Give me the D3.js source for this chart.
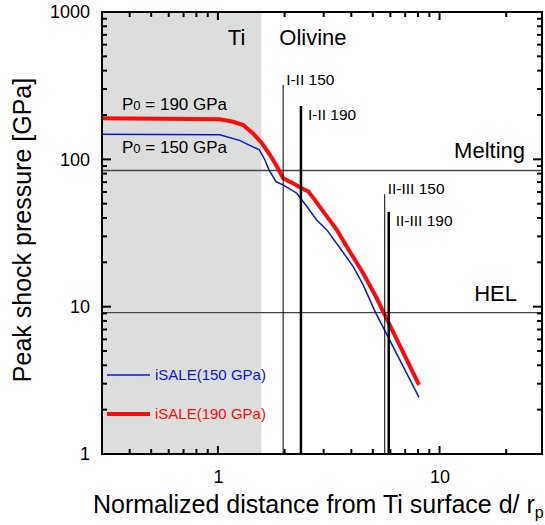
<!DOCTYPE html>
<html>
<head>
<meta charset="utf-8">
<script src="https://cdn.jsdelivr.net/npm/d3@7"></script>
<style>
body { margin: 0; background: #fff; }
text { font-family: "Liberation Sans", Arial, Helvetica, sans-serif; }
</style>
</head>
<body>
<div id="container"></div>
<script>
// iSALE peak pressure, 190 GPa run
var distRed = [0.3, 1.02, 1.17, 1.30, 1.44, 1.58, 1.72, 1.85, 1.97, 2.15, 2.39, 2.56, 2.70, 2.99, 3.44, 3.94, 4.53, 5.21, 5.57, 8.08];
var pressRed = [190, 187, 180, 171, 150, 128.6, 107, 89, 74.4, 69.5, 63.7, 60.4, 54.5, 44.2, 33.2, 23.6, 16.8, 11.4, 9.25, 2.94];
// iSALE peak pressure, 150 GPa run
var distBlue = [0.3, 1.02, 1.26, 1.40, 1.54, 1.63, 1.70, 1.83, 1.97, 2.27, 2.52, 2.79, 3.10, 3.56, 4.08, 4.53, 5.12, 8.08];
var pressBlue = [148, 147, 134, 124, 116, 99, 84.7, 70.6, 67, 58.9, 47.8, 38.8, 33.2, 24.9, 18.7, 14.0, 9.25, 2.42];

// phase transition distances
var transNames = ['I-II 150', 'I-II 190', 'II-III 150', 'II-III 190'];
var transDist = [1.97, 2.37, 5.66, 5.90];
var transTop = [320, 230, 58, 44];
var transCase = [150, 190, 150, 190];

// horizontal pressure levels
var levelNames = ['Melting', 'HEL'];
var levelValues = [84, 9.1];

var tiEdge = 1.57;
var p0Names = ['190', '150'];

var xTickLabels = [1, 10];
var xMinorTicks = [0.4, 0.5, 0.6, 0.7, 0.8, 0.9, 2, 3, 4, 5, 6, 7, 8, 9, 20];
var yTickLabels = [1, 10, 100, 1000];
var yMinorTicks = [2, 3, 4, 5, 6, 7, 8, 9, 20, 30, 40, 50, 60, 70, 80, 90, 200, 300, 400, 500, 600, 700, 800, 900];

var width = 545, height = 525;
var plotLeft = 102, plotRight = 542, plotTop = 12, plotBottom = 454;

var svg = d3.select('#container').append('svg')
    .attr('width', width)
    .attr('height', height);

var x = d3.scaleLog().domain([0.3, 29]).range([plotLeft, plotRight]);
var y = d3.scaleLog().domain([1, 1000]).range([plotBottom, plotTop]);

// Ti region
svg.append('rect')
    .attr('x', plotLeft)
    .attr('y', plotTop)
    .attr('width', x(tiEdge) - plotLeft)
    .attr('height', plotBottom - plotTop)
    .attr('fill', '#dcdddd');

// Melting / HEL lines
svg.selectAll('.level').data(levelValues).enter().append('line')
    .attr('class', 'level')
    .attr('x1', plotLeft).attr('x2', plotRight)
    .attr('y1', function (d) { return y(d); })
    .attr('y2', function (d) { return y(d); })
    .attr('stroke', '#444')
    .attr('stroke-width', 1.3);

var curve = d3.line()
    .x(function (d) { return x(d[0]); })
    .y(function (d) { return y(d[1]); });

svg.append('path')
    .datum(d3.zip(distBlue, pressBlue))
    .attr('d', curve)
    .attr('fill', 'none')
    .attr('stroke', '#0a14e6')
    .attr('stroke-width', 1.5);

svg.append('path')
    .datum(d3.zip(distRed, pressRed))
    .attr('d', curve)
    .attr('fill', 'none')
    .attr('stroke', '#ff0a0a')
    .attr('stroke-width', 4);

// transition lines
svg.selectAll('.trans').data(transDist).enter().append('line')
    .attr('class', 'trans')
    .attr('x1', function (d) { return x(d); })
    .attr('x2', function (d) { return x(d); })
    .attr('y1', plotBottom)
    .attr('y2', function (d, i) { return y(transTop[i]); })
    .attr('stroke', '#000')
    .attr('stroke-width', function (d, i) { return transCase[i] == 190 ? 2.5 : 1; });

svg.selectAll('.transLabel').data(transNames).enter().append('text')
    .attr('class', 'transLabel')
    .attr('x', function (d, i) { return x(transDist[i]) + (transCase[i] == 190 ? 7 : 3); })
    .attr('y', function (d, i) { return y(transTop[i]) + (transCase[i] == 190 ? 14 : 0); })
    .attr('font-size', 15.5)
    .text(function (d) { return d; });

// frame
svg.append('rect')
    .attr('x', plotLeft).attr('y', plotTop)
    .attr('width', plotRight - plotLeft).attr('height', plotBottom - plotTop)
    .attr('fill', 'none')
    .attr('stroke', '#000')
    .attr('stroke-width', 2);

// tick labels from the axes
var gBottom = svg.append('g').attr('class', 'axis').attr('transform', 'translate(0,' + plotBottom + ')')
    .call(d3.axisBottom(x).tickValues(xTickLabels).tickSize(0).tickPadding(16).tickFormat(d3.format('d')));
var gLeft = svg.append('g').attr('class', 'axis').attr('transform', 'translate(' + plotLeft + ',0)')
    .call(d3.axisLeft(y).tickValues(yTickLabels).tickSize(0).tickPadding(12).tickFormat(d3.format('d')));
svg.selectAll('.axis .domain').remove();
svg.selectAll('.axis .tick text')
    .attr('fill', '#000')
    .attr('font-size', 18)
    .attr('font-family', '"Liberation Sans", Arial, sans-serif');

// inward ticks on all four sides
var xTicks = xMinorTicks.map(function (v) { return [v, 5]; })
    .concat(xTickLabels.map(function (v) { return [v, 8]; }));
var yTicks = yMinorTicks.map(function (v) { return [v, 5]; })
    .concat(yTickLabels.filter(function (v) { return v > 1 && v < 1000; }).map(function (v) { return [v, 9]; }));

var ticks = svg.append('g').attr('stroke', '#000').attr('stroke-width', 2);
[plotBottom, plotTop].forEach(function (edge) {
    var dir = edge == plotBottom ? -1 : 1;
    ticks.selectAll(null).data(xTicks).enter().append('line')
        .attr('x1', function (d) { return x(d[0]); })
        .attr('x2', function (d) { return x(d[0]); })
        .attr('y1', edge)
        .attr('y2', function (d) { return edge + dir * d[1]; });
});
[plotLeft, plotRight].forEach(function (edge) {
    var dir = edge == plotLeft ? 1 : -1;
    ticks.selectAll(null).data(yTicks).enter().append('line')
        .attr('y1', function (d) { return y(d[0]); })
        .attr('y2', function (d) { return y(d[0]); })
        .attr('x1', edge)
        .attr('x2', function (d) { return edge + dir * d[1]; });
});

// region and level labels
svg.append('text').attr('x', x(tiEdge) - 16).attr('y', 45)
    .attr('text-anchor', 'end').attr('font-size', 22).text('Ti');
svg.append('text').attr('x', x(tiEdge) + 18).attr('y', 45)
    .attr('font-size', 22).text('Olivine');

var levelRight = [525, 517];
svg.selectAll('.levelLabel').data(levelNames).enter().append('text')
    .attr('class', 'levelLabel')
    .attr('x', function (d, i) { return levelRight[i]; })
    .attr('y', function (d, i) { return y(levelValues[i]) - 12; })
    .attr('text-anchor', 'end')
    .attr('font-size', 22)
    .text(function (d) { return d; });

// P0 labels
var p0Y = [110, 153];
p0Names.forEach(function (v, i) {
    var t = svg.append('text').attr('x', 122).attr('y', p0Y[i]).attr('font-size', 17);
    t.append('tspan').text('P');
    t.append('tspan').attr('font-size', 13).text('0');
    t.append('tspan').text(' = ' + v + ' GPa');
});

// legend
var legendNames = ['iSALE(150 GPa)', 'iSALE(190 GPa)'];
var legendColors = ['#0a14e6', '#ff0a0a'];
var legendWidths = [1.5, 4];
var legendY = [375, 414];
legendNames.forEach(function (name, i) {
    svg.append('line')
        .attr('x1', 107).attr('x2', 150)
        .attr('y1', legendY[i]).attr('y2', legendY[i])
        .attr('stroke', legendColors[i])
        .attr('stroke-width', legendWidths[i]);
    svg.append('text')
        .attr('x', 155).attr('y', legendY[i] + 5)
        .attr('font-size', 15)
        .attr('fill', legendColors[i])
        .text(name);
});

// axis titles
var xTitle = svg.append('text').attr('x', 93).attr('y', 513).attr('font-size', 25);
xTitle.append('tspan').text('Normalized distance from Ti surface d/ r');
xTitle.append('tspan').attr('font-size', 16).attr('dy', 5).text('p');

svg.append('text')
    .attr('transform', 'translate(31,230) rotate(-90)')
    .attr('text-anchor', 'middle')
    .attr('font-size', 25)
    .text('Peak shock pressure [GPa]');
</script>
</body>
</html>
